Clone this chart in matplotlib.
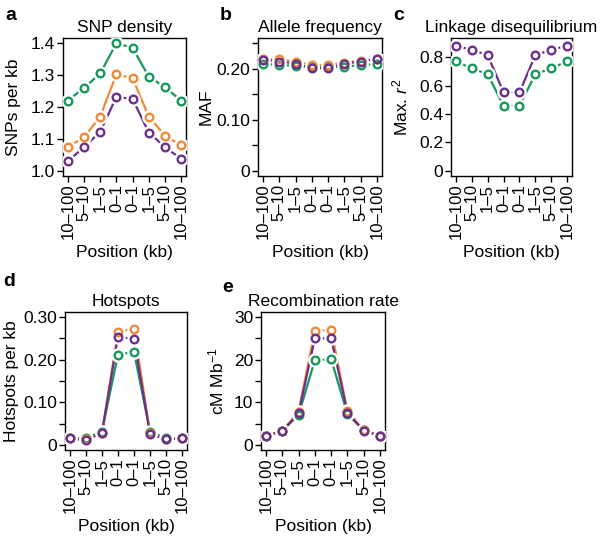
import numpy as np
import matplotlib
matplotlib.use('Agg')
import matplotlib.pyplot as plt

plt.rcParams['font.family'] = ['Liberation Sans', 'DejaVu Sans']
plt.rcParams['mathtext.fontset'] = 'custom'
plt.rcParams['mathtext.it'] = 'Liberation Sans:italic'
plt.rcParams['mathtext.rm'] = 'Liberation Sans'

# Datos
positions = ['10–100', '5–10', '1–5', '0–1', '0–1', '1–5', '5–10', '10–100']

snp_green = [1.220, 1.260, 1.305, 1.400, 1.385, 1.295, 1.262, 1.220]
snp_orange = [1.075, 1.105, 1.170, 1.303, 1.290, 1.170, 1.110, 1.080]
snp_purple = [1.030, 1.075, 1.122, 1.232, 1.225, 1.120, 1.075, 1.037]

maf_green = [0.2085, 0.208, 0.205, 0.203, 0.203, 0.204, 0.207, 0.209]
maf_orange = [0.219, 0.218, 0.214, 0.207, 0.207, 0.212, 0.215, 0.219]
maf_purple = [0.2175, 0.214, 0.210, 0.201, 0.201, 0.210, 0.214, 0.219]

ld_green = [0.772, 0.722, 0.682, 0.458, 0.458, 0.682, 0.722, 0.772]
ld_purple = [0.882, 0.852, 0.816, 0.553, 0.553, 0.816, 0.852, 0.882]

hot_green = [0.016, 0.016, 0.031, 0.212, 0.218, 0.031, 0.015, 0.016]
hot_orange = [0.015, 0.013, 0.028, 0.265, 0.273, 0.028, 0.013, 0.015]
hot_purple = [0.015, 0.011, 0.028, 0.254, 0.248, 0.025, 0.013, 0.015]

rec_green = [2.2, 3.3, 7.0, 19.9, 20.1, 7.2, 3.4, 2.2]
rec_orange = [2.1, 3.3, 7.8, 26.8, 27.0, 7.9, 3.4, 2.2]
rec_purple = [2.1, 3.2, 7.4, 25.0, 25.0, 7.6, 3.3, 2.1]

GREEN = '#17995a'
ORANGE = '#f08a36'
PURPLE = '#6b2f8e'

W, H = 600, 541
fig = plt.figure(figsize=(6.0, 5.41), dpi=100)


def make_ax(left, top, right, bottom):
    ax = fig.add_axes([left / W, 1 - bottom / H, (right - left) / W, (bottom - top) / H])
    ax._px = (left, right)
    return ax


def draw_series(ax, y, color):
    x = np.arange(1, len(y) + 1)
    ax.plot(x, y, color=color, lw=1.6, zorder=2)
    # hueco tipo R type="b"
    ax.plot(x, y, 'o', ms=9.5, mfc='white', mec='white', zorder=3)
    ax.plot(x, y, 'o', ms=5.5, mfc='none', mec=color, mew=1.7, zorder=4)


def style(ax, title, ylabel, ylim, yticks, ylabels, label_x):
    ax.set_xlim(0.7, 8.3)
    ax.set_ylim(*ylim)
    ax.set_xticks(np.arange(1, 9))
    ax.set_xticklabels(positions, rotation=90, fontsize=12)
    ax.set_yticks(yticks)
    ax.set_yticklabels(ylabels, fontsize=12.5)
    ax.tick_params(direction='out', length=4, width=1, pad=1.5)
    for s in ax.spines.values():
        s.set_linewidth(1)
    ax.set_title(title, fontsize=12.5, pad=4)
    ax.set_ylabel(ylabel, fontsize=12.5)
    left, right = ax._px
    ax.yaxis.set_label_coords((label_x - left) / (right - left), 0.5)
    ax.set_xlabel('Position (kb)', fontsize=12.5, labelpad=4)


def letter(x, y, s):
    fig.text(x / W, 1 - y / H, s, fontsize=14, fontweight='bold', va='center', ha='left')


# a
ax = make_ax(63, 38, 186, 176)
for y, c in [(snp_green, GREEN), (snp_orange, ORANGE), (snp_purple, PURPLE)]:
    draw_series(ax, y, c)
style(ax, 'SNP density', 'SNPs per kb', (0.984, 1.416),
      [1.0, 1.1, 1.2, 1.3, 1.4], ['1.0', '1.1', '1.2', '1.3', '1.4'], 21)

# b
ax = make_ax(258, 38, 382, 176)
for y, c in [(maf_green, GREEN), (maf_orange, ORANGE), (maf_purple, PURPLE)]:
    draw_series(ax, y, c)
style(ax, 'Allele frequency', 'MAF', (-0.01, 0.26),
      [0, 0.05, 0.10, 0.15, 0.20, 0.25], ['0', '', '0.10', '', '0.20', ''], 214)

# c
ax = make_ax(451, 38, 572, 176)
for y, c in [(ld_green, GREEN), (ld_purple, PURPLE)]:
    draw_series(ax, y, c)
style(ax, 'Linkage disequilibrium', r'Max. $r^2$', (-0.036, 0.936),
      [0, 0.2, 0.4, 0.6, 0.8], ['0', '0.2', '0.4', '0.6', '0.8'], 410)

# d
ax = make_ax(65, 312, 187, 450)
for y, c in [(hot_green, GREEN), (hot_orange, ORANGE), (hot_purple, PURPLE)]:
    draw_series(ax, y, c)
style(ax, 'Hotspots', 'Hotspots per kb', (-0.012, 0.312),
      [0, 0.05, 0.10, 0.15, 0.20, 0.25, 0.30], ['0', '', '0.10', '', '0.20', '', '0.30'], 19)

# e
ax = make_ax(261, 312, 385, 450)
for y, c in [(rec_green, GREEN), (rec_orange, ORANGE), (rec_purple, PURPLE)]:
    draw_series(ax, y, c)
style(ax, 'Recombination rate', 'cM Mb$^{-1}$', (-1.2, 31.2),
      [0, 5, 10, 15, 20, 25, 30], ['0', '', '10', '', '20', '', '30'], 226)

letter(5, 16, 'a')
letter(220, 16, 'b')
letter(393, 16, 'c')
letter(3, 282, 'd')
letter(222, 287, 'e')

fig.savefig('out.png', dpi=100)
